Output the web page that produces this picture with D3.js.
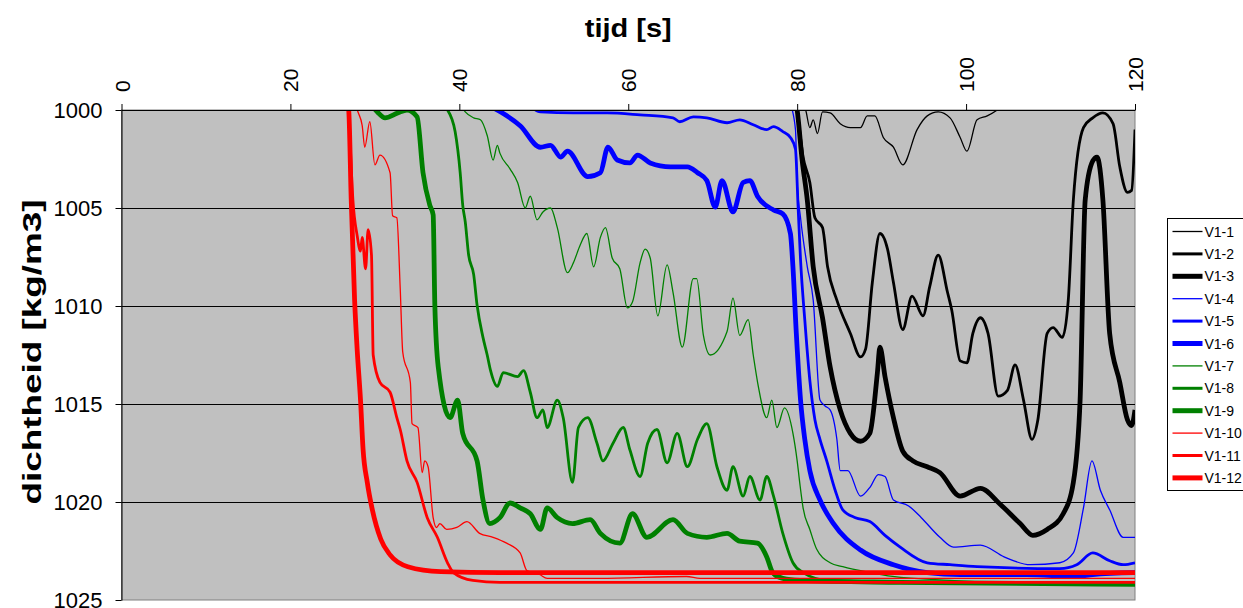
<!DOCTYPE html>
<html>
<head>
<meta charset="utf-8">
<script src="https://cdn.jsdelivr.net/npm/d3@7/dist/d3.min.js"></script>
<style>
  body { margin: 0; background: #fff; }
  text { font-family: "Liberation Sans", Arial, sans-serif; }
</style>
</head>
<body>
<div id="chart"></div>
<script>
// Series names
var names = ["V1-1", "V1-2", "V1-3", "V1-4", "V1-5", "V1-6", "V1-7", "V1-8", "V1-9", "V1-10", "V1-11", "V1-12"];

// tijd [s] and dichtheid [kg/m3] per series
var t1 = [80.4, 81.0, 81.5, 81.9, 82.4, 83.0, 83.9, 85.1, 86.3, 87.5, 88.3, 89.2, 90.2, 91.4, 92.5, 94.2, 95.4, 96.7, 98.1, 99.3, 100.1, 101.3, 102.5, 103.7, 104.6, 120];
var d1 = [999.7, 1000.0, 1000.9, 1000.5, 1001.2, 1000.1, 1000.15, 1000.7, 1000.9, 1000.9, 1000.3, 1000.3, 1001.4, 1001.9, 1002.8, 1001.0, 1000.3, 1000.1, 1000.4, 1001.4, 1002.1, 1000.5, 1000.3, 1000.0, 999.7, 999.6];

var t2 = [79.9, 80.0, 80.7, 81.5, 82.1, 83.0, 83.6, 84.7, 86.3, 87.5, 88.1, 88.9, 89.8, 90.7, 91.4, 92.5, 93.6, 94.9, 95.7, 96.7, 97.8, 98.3, 99.3, 100.1, 100.8, 101.7, 102.6, 103.8, 104.9, 105.8, 106.8, 107.8, 108.5, 109.6, 110.3, 111.4, 112.1, 112.7, 113.9, 115.0, 116.2, 117.4, 118.2, 119.1, 119.6, 120];
var d2 = [999.7, 1000.0, 1002.4, 1003.7, 1005.5, 1006.0, 1008.0, 1009.7, 1011.4, 1012.6, 1012.2, 1008.8, 1006.3, 1007.1, 1008.8, 1011.2, 1009.5, 1010.5, 1009.0, 1007.4, 1009.3, 1010.2, 1012.8, 1012.9, 1011.4, 1010.6, 1011.4, 1014.6, 1014.3, 1013.0, 1014.8, 1016.8, 1015.8, 1011.4, 1011.1, 1011.6, 1009.7, 1004.6, 1000.9, 1000.4, 1000.15, 1000.7, 1002.9, 1004.2, 1004.1, 1001.0];

var t3 = [79.9, 80.0, 80.6, 81.2, 81.9, 83.0, 83.9, 85.1, 86.3, 87.5, 88.6, 89.5, 89.8, 90.4, 91.4, 92.5, 93.7, 95.4, 96.9, 99.3, 101.7, 104.0, 106.4, 107.9, 109.6, 111.5, 112.7, 113.5, 114.1, 115.0, 115.5, 116.2, 117.0, 118.2, 119.1, 119.6, 120];
var d3v = [999.7, 1000.0, 1002.6, 1004.6, 1008.0, 1010.6, 1013.1, 1015.3, 1016.5, 1016.9, 1016.5, 1013.4, 1012.1, 1013.6, 1015.7, 1017.4, 1017.9, 1018.2, 1018.5, 1019.7, 1019.3, 1020.1, 1021.1, 1021.7, 1021.4, 1020.6, 1019.0, 1014.8, 1004.6, 1002.6, 1002.4, 1004.6, 1011.4, 1013.9, 1015.8, 1016.1, 1015.3];

var t4 = [79.2, 79.8, 80.0, 80.4, 81.2, 81.9, 82.7, 83.3, 83.9, 84.7, 85.1, 86.0, 87.5, 88.7, 89.6, 90.4, 91.4, 93.2, 94.7, 96.9, 98.5, 101.7, 104.5, 107.6, 111.1, 112.7, 113.9, 114.9, 115.9, 117.0, 118.6, 120];
var d4 = [999.7, 1001.0, 1003.7, 1005.5, 1008.0, 1009.7, 1014.8, 1015.1, 1015.3, 1016.8, 1018.4, 1018.4, 1019.7, 1019.2, 1018.6, 1018.7, 1019.9, 1020.2, 1020.8, 1021.8, 1022.3, 1022.2, 1022.8, 1023.2, 1023.1, 1022.6, 1020.3, 1017.9, 1019.4, 1020.4, 1021.8, 1021.8];

var t5 = [48.4, 49.6, 53.5, 57.5, 61.4, 65.3, 66.1, 67.7, 69.3, 71.7, 73.2, 74.8, 76.4, 77.2, 78.3, 79.2, 79.8, 80.1, 80.4, 80.9, 81.5, 82.1, 82.7, 83.5, 84.5, 85.4, 86.9, 88.6, 90.4, 92.2, 95.4, 98.1, 101.3, 111.1, 113.1, 115.0, 117.0, 118.6, 120];
var d5 = [999.8, 1000.1, 1000.15, 1000.15, 1000.25, 1000.4, 1000.6, 1000.35, 1000.4, 1000.65, 1000.5, 1000.75, 1001.0, 1000.85, 1001.1, 1001.4, 1002.0, 1004.85, 1007.65, 1010.7, 1013.8, 1015.8, 1016.8, 1017.9, 1019.4, 1020.4, 1020.8, 1021.0, 1021.7, 1022.3, 1023.1, 1023.2, 1023.3, 1023.4, 1023.2, 1022.6, 1023.0, 1023.2, 1023.1];

var t6 = [43.1, 44.9, 47.2, 49.6, 50.8, 52.0, 52.8, 55.2, 56.7, 57.6, 58.7, 60.2, 61.1, 62.6, 65.0, 67.0, 68.2, 69.3, 70.3, 71.1, 72.4, 73.6, 74.4, 75.3, 77.2, 78.3, 79.2, 79.5, 79.9, 80.4, 80.9, 81.5, 82.7, 84.3, 87.5, 91.4, 95.4, 99.3, 107.2, 113.1, 115.0, 120];
var d6 = [999.7, 1000.1, 1000.8, 1001.9, 1001.8, 1002.4, 1002.1, 1003.4, 1003.2, 1001.9, 1002.55, 1002.7, 1002.3, 1002.7, 1002.9, 1002.9, 1003.2, 1003.6, 1004.95, 1003.6, 1005.2, 1003.7, 1003.6, 1004.4, 1005.1, 1005.3, 1006.3, 1008.0, 1011.4, 1014.8, 1016.8, 1018.4, 1019.9, 1021.1, 1022.45, 1023.2, 1023.6, 1023.7, 1023.7, 1023.8, 1023.7, 1023.6];

var t7 = [40.1, 40.7, 41.7, 42.5, 43.3, 44.0, 44.5, 44.8, 46.0, 46.9, 47.8, 48.4, 49.2, 49.9, 50.8, 51.6, 52.8, 53.5, 54.3, 55.1, 55.9, 56.7, 57.3, 58.1, 59.0, 59.9, 60.5, 61.4, 62.0, 62.6, 63.5, 64.6, 65.3, 66.4, 67.7, 68.1, 68.9, 69.7, 71.7, 72.4, 73.2, 74.2, 74.8, 75.4, 76.4, 77.0, 77.6, 78.5, 79.5, 80.0, 80.3, 80.7, 81.5, 82.3, 83.9, 85.4, 88.6, 91.3, 98.1, 103.2, 120];
var d7 = [999.7, 1000.1, 1000.4, 1000.5, 1001.3, 1002.55, 1001.8, 1002.2, 1003.0, 1003.7, 1005.0, 1004.4, 1005.6, 1005.2, 1005.0, 1006.0, 1008.3, 1007.8, 1006.9, 1006.3, 1008.0, 1006.5, 1006.0, 1007.55, 1008.1, 1010.1, 1009.8, 1007.8, 1007.1, 1007.55, 1010.5, 1007.9, 1009.3, 1012.1, 1008.6, 1008.6, 1011.5, 1012.5, 1011.3, 1009.6, 1011.5, 1010.7, 1012.5, 1014.1, 1015.7, 1014.8, 1016.2, 1015.2, 1016.5, 1017.9, 1019.0, 1020.3, 1021.4, 1022.4, 1023.1, 1023.3, 1023.6, 1023.8, 1024.0, 1024.1, 1024.2];

var t8 = [37.7, 38.6, 39.5, 40.1, 40.4, 40.7, 41.1, 41.7, 42.1, 42.8, 43.3, 43.7, 44.5, 45.2, 46.9, 47.6, 48.4, 49.2, 49.9, 50.4, 51.6, 52.3, 53.4, 54.1, 55.2, 56.3, 57.0, 58.2, 59.4, 60.2, 61.4, 62.3, 63.4, 64.6, 65.8, 67.0, 68.2, 69.3, 70.5, 71.7, 72.4, 73.6, 74.4, 75.6, 76.4, 77.2, 78.3, 79.5, 80.7, 83.6, 92.2, 120];
var d8 = [999.7, 1000.0, 1001.1, 1003.2, 1004.85, 1005.7, 1007.4, 1008.4, 1009.95, 1011.6, 1012.5, 1013.3, 1014.1, 1013.4, 1013.6, 1013.3, 1014.4, 1015.7, 1015.3, 1016.2, 1014.8, 1015.7, 1019.0, 1016.2, 1015.7, 1017.0, 1017.9, 1017.0, 1016.2, 1017.35, 1018.7, 1017.0, 1016.3, 1018.0, 1016.5, 1018.2, 1016.8, 1016.0, 1018.2, 1019.4, 1018.2, 1019.7, 1018.7, 1019.9, 1018.7, 1019.7, 1021.6, 1023.1, 1023.6, 1024.0, 1024.1, 1024.2];

var t9 = [29.5, 30.3, 31.2, 32.7, 33.8, 35.0, 35.7, 36.5, 36.9, 37.1, 37.5, 38.9, 39.8, 40.4, 42.1, 42.8, 43.6, 44.8, 46.0, 47.2, 48.4, 49.6, 50.4, 51.6, 53.4, 55.5, 56.7, 59.0, 60.5, 62.2, 65.3, 67.0, 69.3, 71.7, 73.2, 75.3, 76.4, 77.1, 78.3, 80.3, 92.2, 120];
var d9 = [999.7, 1000.1, 1000.4, 1000.15, 1000.0, 1000.35, 1003.2, 1004.85, 1005.35, 1009.95, 1013.1, 1015.7, 1014.8, 1016.5, 1017.9, 1019.9, 1021.1, 1020.8, 1020.05, 1020.3, 1020.6, 1021.4, 1020.3, 1020.8, 1021.1, 1020.9, 1021.6, 1022.1, 1020.6, 1021.8, 1020.9, 1021.6, 1021.8, 1021.6, 1022.0, 1022.1, 1022.8, 1023.6, 1023.9, 1024.0, 1024.1, 1024.2];

var t10 = [27.7, 28.0, 28.5, 28.8, 29.4, 30.0, 30.6, 31.8, 32.1, 32.6, 33.0, 33.3, 34.2, 34.4, 35.1, 35.6, 35.9, 36.3, 36.9, 37.3, 37.7, 38.5, 39.7, 40.9, 42.4, 44.0, 45.6, 47.2, 48.0, 49.5, 50.4, 56.6, 66.9, 68.5, 80.3, 120];
var d10 = [999.7, 1000.1, 1000.8, 1001.9, 1000.6, 1002.8, 1002.3, 1003.2, 1005.4, 1005.5, 1009.1, 1012.35, 1013.9, 1016.0, 1016.2, 1018.5, 1017.9, 1018.2, 1020.8, 1021.3, 1021.1, 1021.4, 1021.3, 1021.0, 1021.6, 1021.8, 1022.1, 1022.6, 1023.5, 1023.7, 1023.9, 1023.9, 1023.8, 1023.9, 1023.9, 1023.9];

var t11 = [26.9, 27.4, 27.9, 28.3, 28.5, 28.9, 29.2, 29.6, 29.8, 30.6, 31.8, 32.6, 33.0, 33.8, 35.0, 36.2, 37.4, 38.6, 39.3, 41.6, 44.8, 120];
var d11 = [999.7, 1004.6, 1006.4, 1007.2, 1006.5, 1008.1, 1006.1, 1007.4, 1012.5, 1013.9, 1014.4, 1015.7, 1016.3, 1017.9, 1019.0, 1020.8, 1021.8, 1023.1, 1023.6, 1024.0, 1024.1, 1024.1];

var t12 = [26.6, 26.9, 27.2, 27.6, 27.9, 28.3, 28.6, 29.1, 29.7, 30.7, 31.8, 33.9, 37.8, 44.9, 120];
var d12 = [999.5, 1000.0, 1004.6, 1009.7, 1012.2, 1014.8, 1017.3, 1019.0, 1020.4, 1021.9, 1022.7, 1023.3, 1023.55, 1023.6, 1023.6];

var times = [t1, t2, t3, t4, t5, t6, t7, t8, t9, t10, t11, t12];
var dens = [d1, d2, d3v, d4, d5, d6, d7, d8, d9, d10, d11, d12];

// Tick labels
var xTicks = [0, 20, 40, 60, 80, 100, 120];
var yTicks = [1000, 1005, 1010, 1015, 1020, 1025];

// Styles: colour per group of three, thin / medium / thick
var colors = ["#000000", "#0000FF", "#008000", "#FF0000"];
var widths = [1.3, 2.8, 4.8];
var legendWidths = [1.3, 3, 5];

// Chart dimensions.
var margin = {top: 110, left: 121.5},
	width = 1135 - 121.5,
	height = 600 - 110;

var xScale = d3.scaleLinear().domain([0, 120]).range([0, width]),
	yScale = d3.scaleLinear().domain([1000, 1025]).range([0, height]);

var root = d3.select("#chart").append("svg")
	.attr("width", 1243)
	.attr("height", 608);

var svg = root.append("g")
	.attr("transform", "translate(" + margin.left + "," + margin.top + ")");

// clip for the plot area
svg.append("clipPath")
	.attr("id", "plotclip")
	.append("rect")
	.attr("width", width)
	.attr("height", height);

// grey plot area
svg.append("rect")
	.attr("width", width)
	.attr("height", height)
	.style("fill", "#C0C0C0")
	.style("stroke", "#808080")
	.style("stroke-width", 1);

// horizontal gridlines
svg.append("g")
	.selectAll("line")
	.data(yTicks.slice(0, yTicks.length - 1))
	.enter().append("line")
	.attr("x1", 0)
	.attr("x2", width)
	.attr("y1", function(d) { return Math.round(yScale(d)) + 0.5; })
	.attr("y2", function(d) { return Math.round(yScale(d)) + 0.5; })
	.style("stroke", "#000")
	.style("stroke-width", 1);

// lines
var line = d3.line()
	.curve(d3.curveMonotoneX)
	.x(function(d) { return xScale(d[0]); })
	.y(function(d) { return yScale(d[1]); });

var series = names.map(function(n, i) {
	return {
		name: n,
		color: colors[Math.floor(i / 3)],
		width: widths[i % 3],
		lwidth: legendWidths[i % 3],
		values: times[i].map(function(t, j) { return [t, dens[i][j]]; })
	};
});

svg.append("g")
	.attr("clip-path", "url(#plotclip)")
	.selectAll("path")
	.data(series)
	.enter().append("path")
	.attr("d", function(d) { return line(d.values); })
	.style("fill", "none")
	.style("stroke", function(d) { return d.color; })
	.style("stroke-width", function(d) { return d.width; })
	.style("stroke-linejoin", "round");

// The x axis on top.
var xAxis = d3.axisTop(xScale).tickValues(xTicks).tickSize(6).tickSizeOuter(0);
var gx = svg.append("g")
	.attr("class", "x axis")
	.call(xAxis);
gx.select(".domain").style("stroke", "#000");
gx.selectAll("text")
	.attr("transform", "rotate(-90)")
	.attr("x", 18)
	.attr("y", 0)
	.attr("dy", ".36em")
	.style("text-anchor", "start")
	.style("font-size", "21px")
	.style("fill", "#000");

// The y axis.
var yAxis = d3.axisLeft(yScale).tickValues(yTicks).tickSize(6).tickPadding(13)
	.tickSizeOuter(0).tickFormat(d3.format("d"));
var gy = svg.append("g")
	.attr("class", "y axis")
	.call(yAxis);
gy.select(".domain").style("stroke", "#000");
gy.selectAll("text")
	.style("font-size", "22px")
	.style("fill", "#000");

// axis titles
root.append("text")
	.attr("x", margin.left + width / 2)
	.attr("y", 37)
	.attr("text-anchor", "middle")
	.attr("textLength", 87)
	.attr("lengthAdjust", "spacingAndGlyphs")
	.style("font-size", "26px")
	.style("font-weight", "bold")
	.text("tijd [s]");

root.append("text")
	.attr("transform", "translate(41," + 352 + ") rotate(-90)")
	.attr("text-anchor", "middle")
	.attr("textLength", 305)
	.attr("lengthAdjust", "spacingAndGlyphs")
	.style("font-size", "26px")
	.style("font-weight", "bold")
	.text("dichtheid [kg/m3]");

// legend
var legend = root.append("g")
	.attr("transform", "translate(1167.5,218.5)");

legend.append("rect")
	.attr("width", 90)
	.attr("height", 272)
	.style("fill", "#fff")
	.style("stroke", "#000");

var items = legend.selectAll("g.item")
	.data(series)
	.enter().append("g")
	.attr("class", "item")
	.attr("transform", function(d, i) { return "translate(0," + (13 + i * 22.4) + ")"; });

items.append("line")
	.attr("x1", 5)
	.attr("x2", 35)
	.style("stroke", function(d) { return d.color; })
	.style("stroke-width", function(d) { return d.lwidth; });

items.append("text")
	.attr("x", 37)
	.attr("dy", ".36em")
	.style("font-size", "14px")
	.text(function(d) { return d.name; });
</script>
</body>
</html>
